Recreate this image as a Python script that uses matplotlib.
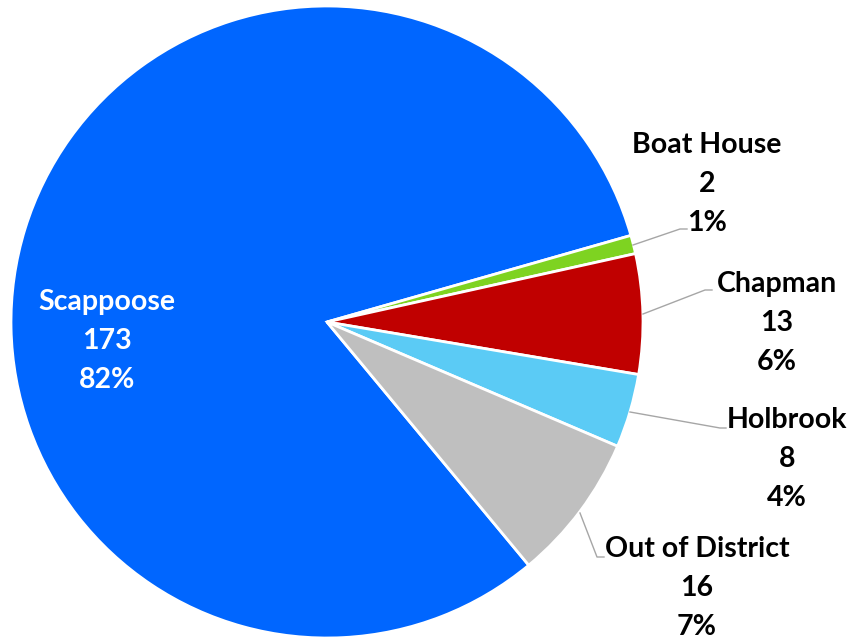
import matplotlib
matplotlib.use("Agg")
import matplotlib.pyplot as plt

# students by area of residence
areas = ["Scappoose", "Boat House", "Chapman", "Holbrook", "Out of District"]
counts = [173, 2, 13, 8, 16]
pct_labels = ["82%", "1%", "6%", "4%", "7%"]
colors = ["#0066FF", "#7ED321", "#C00000", "#5BCBF5", "#BFBFBF"]

W, H = 854, 639
CX, CY, R = 327, 322, 316

def px(x, y):
    # pixel position -> data coords (pie centred at origin, radius 1)
    return (x - CX) / R, (CY - y) / R

fig = plt.figure(figsize=(W / 100, H / 100), dpi=100)
ax = fig.add_axes([0, 0, 1, 1])

total = sum(counts)
scap_deg = counts[0] / total * 360
ax.pie(counts, colors=colors, startangle=15.9 + scap_deg, counterclock=False,
       radius=1, wedgeprops=dict(edgecolor="white", linewidth=2))

ax.set_xlim(-CX / R, (W - CX) / R)
ax.set_ylim(-(H - CY) / R, CY / R)
ax.set_aspect("auto")
ax.axis("off")

# label centres and leader lines, in pixels
label_pos = [(107, 341), (707, 184), (777, 323), (787, 459), (697, 588)]
leaders = [None,
           [(633, 245), (680, 229), (687, 229)],
           [(643, 314), (705, 290), (712, 290)],
           [(630, 412), (720, 428), (726, 428)],
           [(580, 513), (597, 557), (604, 557)]]

font = ["Lato", "DejaVu Sans"]
for i, name in enumerate(areas):
    x, y = px(*label_pos[i])
    txt_color = "white" if i == 0 else "black"
    ax.text(x, y, f"{name}\n{counts[i]}\n{pct_labels[i]}", ha="center", va="center",
            fontsize=20.5, fontweight="bold", family=font, color=txt_color,
            linespacing=1.62)
    if leaders[i]:
        pts = [px(a, b) for a, b in leaders[i]]
        ax.plot([p[0] for p in pts], [p[1] for p in pts], color="#A6A6A6", lw=1)

fig.savefig("out.png", dpi=100)
